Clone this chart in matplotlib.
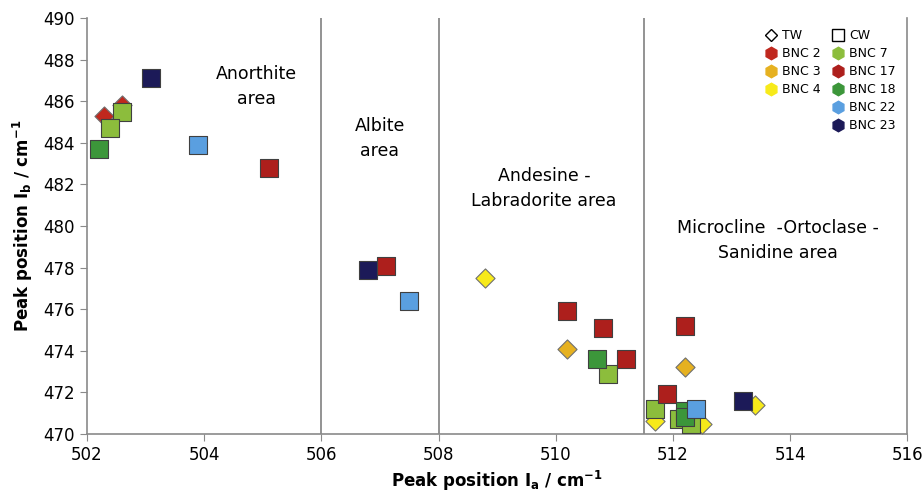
import matplotlib.pyplot as plt
from matplotlib.lines import Line2D

# TW samples (diamonds)
bnc2_x = [502.3, 502.6]
bnc2_y = [485.3, 485.8]
bnc3_x = [510.2, 512.2]
bnc3_y = [474.1, 473.2]
bnc4_x = [508.8, 511.7, 512.5, 513.4]
bnc4_y = [477.5, 470.6, 470.5, 471.4]

# CW samples (squares)
bnc7_x = [502.6, 502.4, 510.9, 511.7, 512.1, 512.3]
bnc7_y = [485.5, 484.7, 472.9, 471.2, 470.7, 470.5]
bnc17_x = [505.1, 507.1, 510.2, 510.8, 511.2, 512.2, 511.9]
bnc17_y = [482.8, 478.1, 475.9, 475.1, 473.6, 475.2, 471.9]
bnc18_x = [502.2, 510.7, 512.2, 512.2]
bnc18_y = [483.7, 473.6, 471.1, 470.8]
bnc22_x = [503.9, 507.5, 512.4]
bnc22_y = [483.9, 476.4, 471.2]
bnc23_x = [503.1, 506.8, 513.2]
bnc23_y = [487.1, 477.9, 471.6]

boundaries = [506, 508, 511.5]

colors = {'BNC 2': '#c0281e', 'BNC 3': '#e6b120', 'BNC 4': '#f7ea1a',
          'BNC 7': '#8cbd3c', 'BNC 17': '#ad1f1c', 'BNC 18': '#3c963a',
          'BNC 22': '#5a9fe0', 'BNC 23': '#1c1a58'}

fig, ax = plt.subplots(figsize=(9.24, 4.94), dpi=100)
fig.subplots_adjust(left=0.094, right=0.982, bottom=0.1215, top=0.9636)

for b in boundaries:
    ax.axvline(b, color='#8a8a8a', lw=1.3, zorder=1)

sq = dict(marker='s', s=150, edgecolors='#404040', linewidths=0.8, zorder=3)
dm = dict(marker='D', s=95, edgecolors='#707070', linewidths=0.8, zorder=3)

ax.scatter(bnc2_x, bnc2_y, c=colors['BNC 2'], **dm)
ax.scatter(bnc3_x, bnc3_y, c=colors['BNC 3'], **dm)
ax.scatter(bnc4_x, bnc4_y, c=colors['BNC 4'], **dm)
ax.scatter(bnc7_x, bnc7_y, c=colors['BNC 7'], **sq)
ax.scatter(bnc17_x, bnc17_y, c=colors['BNC 17'], **sq)
ax.scatter(bnc18_x, bnc18_y, c=colors['BNC 18'], **sq)
ax.scatter(bnc22_x, bnc22_y, c=colors['BNC 22'], **sq)
ax.scatter(bnc23_x, bnc23_y, c=colors['BNC 23'], **sq)

# area labels
tkw = dict(ha='center', va='center', fontsize=12.5, linespacing=1.5)
ax.text(504.9, 486.7, 'Anorthite\narea', **tkw)
ax.text(507.0, 484.2, 'Albite\narea', **tkw)
ax.text(509.8, 481.8, 'Andesine -\nLabradorite area', **tkw)
ax.text(513.8, 479.3, 'Microcline  -Ortoclase -\nSanidine area', **tkw)

ax.set_xlim(502, 516)
ax.set_ylim(470, 490)
ax.set_xticks(range(502, 517, 2))
ax.set_yticks(range(470, 491, 2))
ax.tick_params(labelsize=12, color='#8a8a8a', length=5)
ax.spines['top'].set_visible(False)
for s in ['left', 'bottom', 'right']:
    ax.spines[s].set_color('#8a8a8a')
    ax.spines[s].set_linewidth(1.2)

ax.set_xlabel('Peak position I$_\\mathbf{a}$ / cm$^{\\mathbf{-1}}$', fontsize=12, fontweight='bold', labelpad=4)
ax.set_ylabel('Peak position I$_\\mathbf{b}$ / cm$^{\\mathbf{-1}}$', fontsize=12, fontweight='bold', labelpad=6)

def blob(name):
    return Line2D([], [], marker='h', ls='', color=colors[name], markersize=9, label=name)

blank = Line2D([], [], ls='', marker='', label=' ')
handles = [
    Line2D([], [], marker='D', ls='', mfc='white', mec='black', markersize=6, label='TW'),
    blob('BNC 2'), blob('BNC 3'), blob('BNC 4'), blank, blank,
    Line2D([], [], marker='s', ls='', mfc='white', mec='black', markersize=8, label='CW'),
    blob('BNC 7'), blob('BNC 17'), blob('BNC 18'), blob('BNC 22'), blob('BNC 23'),
]
ax.legend(handles=handles, ncol=2, loc='upper right', bbox_to_anchor=(1.0, 1.0),
          frameon=False, fontsize=9, handletextpad=0.3, columnspacing=0.8,
          labelspacing=0.4, handlelength=1.2)

plt.savefig('out.png', dpi=100)
